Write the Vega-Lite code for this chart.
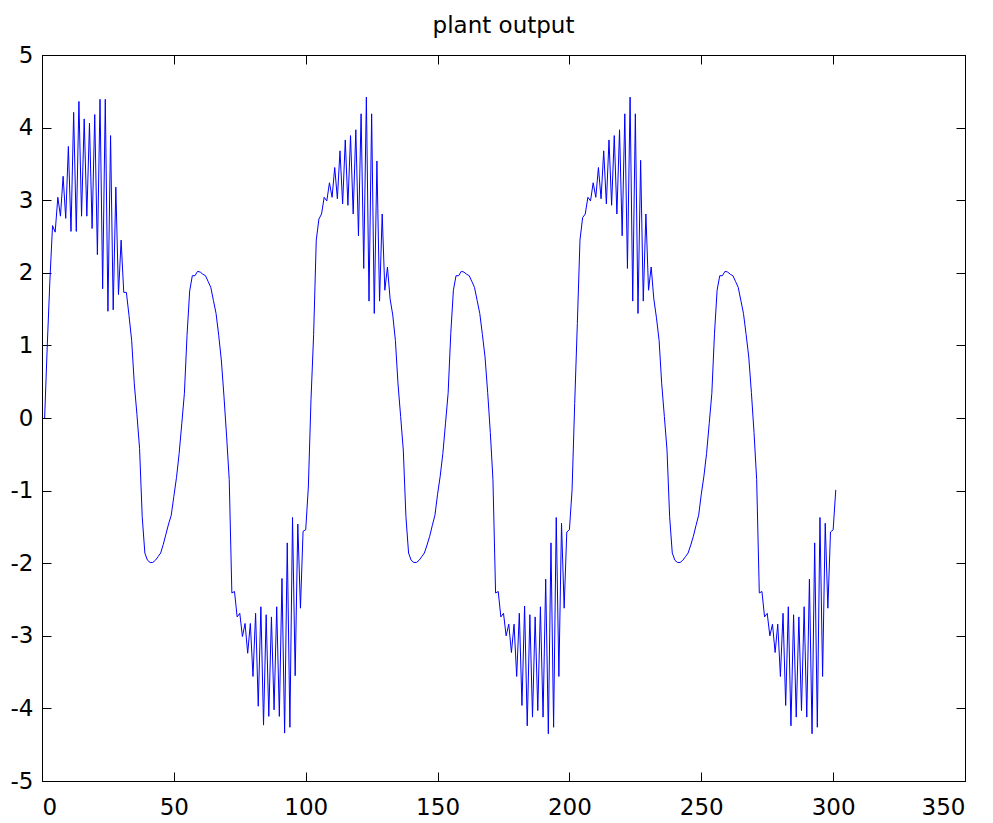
{
  "$schema": "https://vega.github.io/schema/vega-lite/v6.json",
  "autosize": {"type": "none"},
  "padding": {"left": 42, "top": 55, "right": 28, "bottom": 42},
  "width": 923,
  "height": 726,
  "background": "white",
  "title": {"text": "plant output", "font": "DejaVu Sans", "fontSize": 23, "fontWeight": "normal", "color": "black", "offset": 6, "anchor": "middle"},
  "config": {
    "view": {"stroke": "black", "strokeWidth": 1},
    "axis": {"grid": false, "domainColor": "black", "tickColor": "black", "labelColor": "black", "labelFont": "DejaVu Sans", "labelFontSize": 23, "title": null, "domainWidth": 1, "tickWidth": 1}
  },
  "data": {"values": [
    {"x":1,"y":0},{"x":2,"y":1.0},{"x":3,"y":1.9},{"x":4,"y":2.65},{"x":5,"y":2.56},{"x":6,"y":3.04},{"x":7,"y":2.78},{"x":8,"y":3.33},{"x":9,"y":2.75},{"x":10,"y":3.74},
    {"x":11,"y":2.57},{"x":12,"y":4.21},{"x":13,"y":2.57},{"x":14,"y":4.36},{"x":15,"y":2.78},{"x":16,"y":4.12},{"x":17,"y":2.78},{"x":18,"y":4.06},{"x":19,"y":2.61},{"x":20,"y":4.18},
    {"x":21,"y":2.25},{"x":22,"y":4.39},{"x":23,"y":1.78},{"x":24,"y":4.39},{"x":25,"y":1.47},{"x":26,"y":3.89},{"x":27,"y":1.49},{"x":28,"y":3.18},{"x":29,"y":1.70},{"x":30,"y":2.45},
    {"x":31,"y":1.73},{"x":32,"y":1.73},{"x":33,"y":1.41},{"x":34,"y":1.07},{"x":35,"y":0.47},{"x":36,"y":0.05},{"x":37,"y":-0.42},{"x":38,"y":-1.36},{"x":39,"y":-1.86},{"x":40,"y":-1.96},
    {"x":41,"y":-1.99},{"x":42,"y":-1.99},{"x":43,"y":-1.96},{"x":44,"y":-1.91},{"x":45,"y":-1.86},{"x":46,"y":-1.74},{"x":47,"y":-1.6},{"x":48,"y":-1.46},{"x":49,"y":-1.34},{"x":50,"y":-1.08},
    {"x":51,"y":-0.82},{"x":52,"y":-0.49},{"x":53,"y":-0.08},{"x":54,"y":0.34},{"x":55,"y":1.14},{"x":56,"y":1.75},{"x":57,"y":1.96},{"x":58,"y":1.96},{"x":59,"y":2.02},{"x":60,"y":2.01},
    {"x":61,"y":1.98},{"x":62,"y":1.96},{"x":63,"y":1.88},{"x":64,"y":1.8},{"x":65,"y":1.62},{"x":66,"y":1.44},{"x":67,"y":1.14},{"x":68,"y":0.8},{"x":69,"y":0.3},{"x":70,"y":-0.25},
    {"x":71,"y":-0.85},{"x":72,"y":-2.41},{"x":73,"y":-2.39},{"x":74,"y":-2.74},{"x":75,"y":-2.69},{"x":76,"y":-3.01},{"x":77,"y":-2.83},{"x":78,"y":-3.24},{"x":79,"y":-2.83},{"x":80,"y":-3.56},
    {"x":81,"y":-2.69},{"x":82,"y":-3.97},{"x":83,"y":-2.60},{"x":84,"y":-4.23},{"x":85,"y":-2.71},{"x":86,"y":-4.11},{"x":87,"y":-2.74},{"x":88,"y":-4.02},{"x":89,"y":-2.60},{"x":90,"y":-4.11},
    {"x":91,"y":-2.21},{"x":92,"y":-4.34},{"x":93,"y":-1.72},{"x":94,"y":-4.26},{"x":95,"y":-1.37},{"x":96,"y":-3.55},{"x":97,"y":-1.46},{"x":98,"y":-2.62},{"x":99,"y":-1.56},{"x":100,"y":-1.54},
    {"x":101,"y":-0.95},{"x":102,"y":0.25},{"x":103,"y":1.15},{"x":104,"y":2.45},{"x":105,"y":2.74},{"x":106,"y":2.81},{"x":107,"y":3.04},{"x":108,"y":2.99},{"x":109,"y":3.24},{"x":110,"y":3.04},
    {"x":111,"y":3.45},{"x":112,"y":3.02},{"x":113,"y":3.68},{"x":114,"y":2.95},{"x":115,"y":3.83},{"x":116,"y":2.93},{"x":117,"y":3.89},{"x":118,"y":2.81},{"x":119,"y":3.97},{"x":120,"y":2.51},
    {"x":121,"y":4.19},{"x":122,"y":2.06},{"x":123,"y":4.42},{"x":124,"y":1.61},{"x":125,"y":4.19},{"x":126,"y":1.44},{"x":127,"y":3.54},{"x":128,"y":1.61},{"x":129,"y":2.81},{"x":130,"y":1.76},
    {"x":131,"y":2.08},{"x":132,"y":1.64},{"x":133,"y":1.42},{"x":134,"y":1.07},{"x":135,"y":0.47},{"x":136,"y":0.02},{"x":137,"y":-0.44},{"x":138,"y":-1.36},{"x":139,"y":-1.86},{"x":140,"y":-1.96},
    {"x":141,"y":-1.99},{"x":142,"y":-1.99},{"x":143,"y":-1.96},{"x":144,"y":-1.91},{"x":145,"y":-1.86},{"x":146,"y":-1.75},{"x":147,"y":-1.63},{"x":148,"y":-1.48},{"x":149,"y":-1.34},{"x":150,"y":-1.05},
    {"x":151,"y":-0.8},{"x":152,"y":-0.49},{"x":153,"y":-0.08},{"x":154,"y":0.34},{"x":155,"y":1.16},{"x":156,"y":1.76},{"x":157,"y":1.96},{"x":158,"y":1.96},{"x":159,"y":2.02},{"x":160,"y":2.01},
    {"x":161,"y":1.98},{"x":162,"y":1.96},{"x":163,"y":1.88},{"x":164,"y":1.8},{"x":165,"y":1.62},{"x":166,"y":1.44},{"x":167,"y":1.15},{"x":168,"y":0.84},{"x":169,"y":0.35},{"x":170,"y":-0.2},
    {"x":171,"y":-0.85},{"x":172,"y":-2.41},{"x":173,"y":-2.39},{"x":174,"y":-2.74},{"x":175,"y":-2.69},{"x":176,"y":-3.0},{"x":177,"y":-2.84},{"x":178,"y":-3.23},{"x":179,"y":-2.84},{"x":180,"y":-3.56},
    {"x":181,"y":-2.69},{"x":182,"y":-3.96},{"x":183,"y":-2.59},{"x":184,"y":-4.24},{"x":185,"y":-2.71},{"x":186,"y":-4.12},{"x":187,"y":-2.74},{"x":188,"y":-4.03},{"x":189,"y":-2.60},{"x":190,"y":-4.12},
    {"x":191,"y":-2.22},{"x":192,"y":-4.35},{"x":193,"y":-1.72},{"x":194,"y":-4.26},{"x":195,"y":-1.37},{"x":196,"y":-3.56},{"x":197,"y":-1.45},{"x":198,"y":-2.62},{"x":199,"y":-1.57},{"x":200,"y":-1.54},
    {"x":201,"y":-0.99},{"x":202,"y":0.2},{"x":203,"y":1.3},{"x":204,"y":2.45},{"x":205,"y":2.76},{"x":206,"y":2.81},{"x":207,"y":3.04},{"x":208,"y":2.99},{"x":209,"y":3.24},{"x":210,"y":3.04},
    {"x":211,"y":3.45},{"x":212,"y":3.02},{"x":213,"y":3.68},{"x":214,"y":2.95},{"x":215,"y":3.83},{"x":216,"y":2.93},{"x":217,"y":3.89},{"x":218,"y":2.81},{"x":219,"y":3.97},{"x":220,"y":2.51},
    {"x":221,"y":4.19},{"x":222,"y":2.06},{"x":223,"y":4.42},{"x":224,"y":1.61},{"x":225,"y":4.19},{"x":226,"y":1.44},{"x":227,"y":3.55},{"x":228,"y":1.61},{"x":229,"y":2.81},{"x":230,"y":1.76},
    {"x":231,"y":2.08},{"x":232,"y":1.64},{"x":233,"y":1.38},{"x":234,"y":1.07},{"x":235,"y":0.47},{"x":236,"y":0.02},{"x":237,"y":-0.44},{"x":238,"y":-1.36},{"x":239,"y":-1.86},{"x":240,"y":-1.96},
    {"x":241,"y":-1.99},{"x":242,"y":-1.99},{"x":243,"y":-1.96},{"x":244,"y":-1.91},{"x":245,"y":-1.86},{"x":246,"y":-1.75},{"x":247,"y":-1.63},{"x":248,"y":-1.48},{"x":249,"y":-1.34},{"x":250,"y":-1.05},
    {"x":251,"y":-0.8},{"x":252,"y":-0.49},{"x":253,"y":-0.08},{"x":254,"y":0.34},{"x":255,"y":1.16},{"x":256,"y":1.76},{"x":257,"y":1.96},{"x":258,"y":1.96},{"x":259,"y":2.02},{"x":260,"y":2.01},
    {"x":261,"y":1.98},{"x":262,"y":1.96},{"x":263,"y":1.88},{"x":264,"y":1.8},{"x":265,"y":1.62},{"x":266,"y":1.44},{"x":267,"y":1.15},{"x":268,"y":0.84},{"x":269,"y":0.35},{"x":270,"y":-0.2},
    {"x":271,"y":-0.85},{"x":272,"y":-2.41},{"x":273,"y":-2.39},{"x":274,"y":-2.74},{"x":275,"y":-2.69},{"x":276,"y":-3.0},{"x":277,"y":-2.84},{"x":278,"y":-3.23},{"x":279,"y":-2.84},{"x":280,"y":-3.56},
    {"x":281,"y":-2.69},{"x":282,"y":-3.96},{"x":283,"y":-2.60},{"x":284,"y":-4.24},{"x":285,"y":-2.71},{"x":286,"y":-4.12},{"x":287,"y":-2.74},{"x":288,"y":-4.03},{"x":289,"y":-2.60},{"x":290,"y":-4.12},
    {"x":291,"y":-2.22},{"x":292,"y":-4.35},{"x":293,"y":-1.72},{"x":294,"y":-4.26},{"x":295,"y":-1.37},{"x":296,"y":-3.56},{"x":297,"y":-1.45},{"x":298,"y":-2.62},{"x":299,"y":-1.57},{"x":300,"y":-1.54},
    {"x":301,"y":-0.99}
  ]},
  "layer": [
    {
      "mark": {"type": "line", "color": "#0000FF", "strokeWidth": 1, "clip": true},
      "encoding": {
        "x": {"field": "x", "type": "quantitative", "scale": {"domain": [0, 350], "nice": false, "zero": false},
              "axis": {"orient": "bottom", "values": [0,50,100,150,200,250,300,350], "tickSize": -9, "labelPadding": 24, "labelExpr": "'' + datum.value"}},
        "y": {"field": "y", "type": "quantitative", "scale": {"domain": [-5, 5], "nice": false, "zero": false},
              "axis": {"orient": "left", "values": [-5,-4,-3,-2,-1,0,1,2,3,4,5], "tickSize": -9, "labelPadding": 18, "labelExpr": "'' + datum.value"}}
      }
    },
    {
      "mark": {"type": "line", "strokeOpacity": 0},
      "encoding": {
        "x": {"field": "x", "type": "quantitative", "axis": {"orient": "top", "values": [0,50,100,150,200,250,300,350], "tickSize": -9, "labels": false}},
        "y": {"field": "y", "type": "quantitative", "axis": {"orient": "right", "values": [-5,-4,-3,-2,-1,0,1,2,3,4,5], "tickSize": -9, "labels": false}}
      }
    }
  ],
  "resolve": {"axis": {"x": "independent", "y": "independent"}}
}
